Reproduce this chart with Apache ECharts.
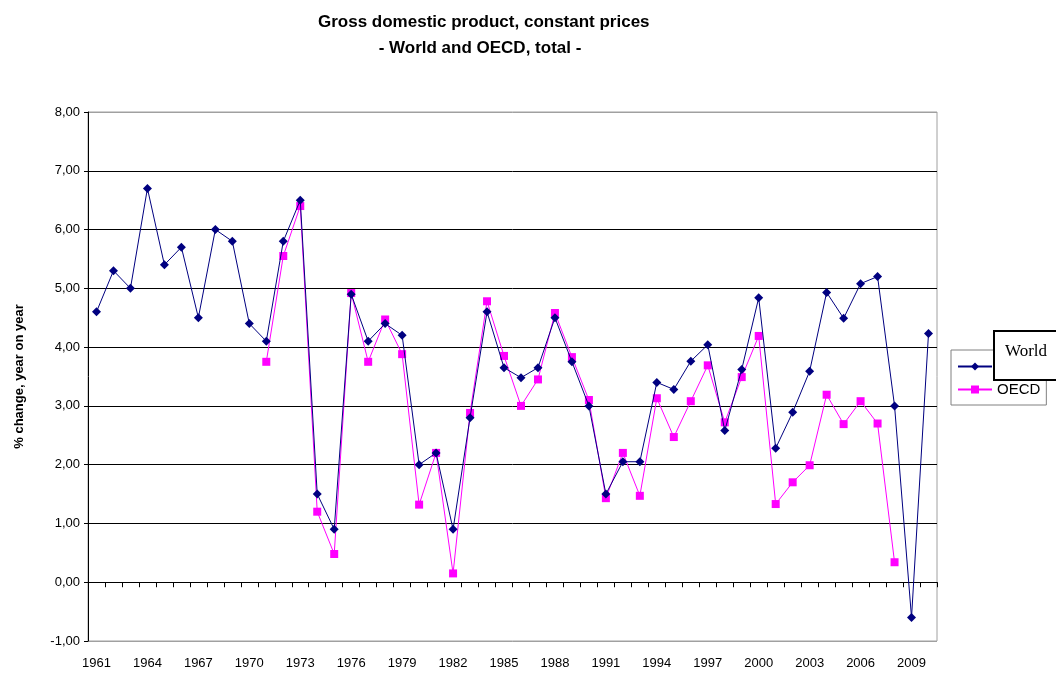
<!DOCTYPE html>
<html>
<head>
<meta charset="utf-8">
<script src="https://cdn.jsdelivr.net/npm/echarts@6/dist/echarts.min.js"></script>
<style>
  html, body { margin: 0; padding: 0; background: #fff; }
  #chart { width: 1056px; height: 673px; }
</style>
</head>
<body>
<div id="chart"></div>
<script>
  // years 1961..2010
  var years = []
  for (var y = 1961; y <= 2010; y++) years.push(String(y))

  var worldGdp = [
    4.6, 5.3, 5.0, 6.7, 5.4, 5.7, 4.5, 6.0, 5.8, 4.4,
    4.1, 5.8, 6.5, 1.5, 0.9, 4.9, 4.1, 4.4, 4.2, 2.0,
    2.2, 0.9, 2.8, 4.6, 3.65, 3.48, 3.65, 4.5, 3.75, 3.0,
    1.5, 2.05, 2.05, 3.4, 3.28, 3.76, 4.04, 2.58, 3.62, 4.84,
    2.28, 2.89, 3.59, 4.93, 4.49, 5.08, 5.2, 3.0, -0.6, 4.23
  ]
  var oecdGdp = [
    null, null, null, null, null, null, null, null, null, null,
    3.75, 5.55, 6.4, 1.2, 0.48, 4.92, 3.75, 4.47, 3.88, 1.32,
    2.2, 0.15, 2.88, 4.78, 3.85, 3.0, 3.45, 4.58, 3.83, 3.1,
    1.43, 2.2, 1.47, 3.13, 2.47, 3.08, 3.69, 2.72, 3.49, 4.19,
    1.33, 1.7, 1.99, 3.19, 2.69, 3.08, 2.7, 0.34, null, null
  ]

  var font = '"Liberation Sans", Arial, sans-serif'
  var chart = echarts.init(document.getElementById('chart'))
  var option = {
    backgroundColor: '#fff',
    animation: false,
    grid: {
      left: 88,
      top: 112,
      width: 849,
      height: 529,
      show: true,
      borderColor: '#a0a0a0',
      borderWidth: 1,
      backgroundColor: '#fff'
    },
    graphic: [
      {
        type: 'text',
        left: 480 - 162,
        top: 14,
        style: {
          text: 'Gross domestic product, constant prices',
          font: 'bold 17px ' + font,
          fill: '#000'
        }
      },
      {
        type: 'text',
        x: 480,
        y: 40,
        style: {
          text: '- World and OECD, total -',
          font: 'bold 17px ' + font,
          fill: '#000',
          textAlign: 'center'
        }
      },
      {
        type: 'rect',
        z: 100,
        shape: { x: 994, y: 331, width: 70, height: 49 },
        style: { fill: '#fff', stroke: '#000', lineWidth: 2 }
      },
      {
        type: 'text',
        z: 101,
        x: 1005,
        y: 343,
        style: {
          text: 'World',
          font: '17px "Liberation Serif", "Times New Roman", serif',
          fill: '#000'
        }
      }
    ],
    legend: {
      orient: 'vertical',
      left: 951,
      top: 350,
      width: 100,
      padding: [9, 6, 8, 6],
      itemGap: 8,
      itemWidth: 34,
      itemHeight: 10,
      borderColor: '#808080',
      borderWidth: 1,
      backgroundColor: '#fff',
      textStyle: { fontFamily: font, fontSize: 15, color: '#000' },
      data: ['World', 'OECD']
    },
    xAxis: [
      {
        type: 'category',
        data: years,
        boundaryGap: true,
        axisLine: { onZero: true, lineStyle: { color: '#000', width: 1 } },
        axisTick: { show: true, interval: 0, length: 5, inside: false, lineStyle: { color: '#000' } },
        axisLabel: { show: false },
        splitLine: { show: false }
      },
      {
        type: 'category',
        data: years,
        position: 'bottom',
        boundaryGap: true,
        axisLine: { show: false, onZero: false },
        axisTick: { show: false },
        axisLabel: {
          interval: 2,
          margin: 16,
          fontFamily: font,
          fontSize: 13,
          color: '#000'
        },
        splitLine: { show: false }
      }
    ],
    yAxis: {
      type: 'value',
      min: -1,
      max: 8,
      interval: 1,
      name: '% change, year on year',
      nameLocation: 'middle',
      nameRotate: 90,
      nameGap: 62,
      nameTextStyle: { fontFamily: font, fontSize: 13, fontWeight: 'bold', color: '#000' },
      axisLine: { show: true, lineStyle: { color: '#000' } },
      axisTick: { show: true, length: 4, lineStyle: { color: '#000' } },
      axisLabel: {
        margin: 8,
        fontFamily: font,
        fontSize: 13,
        color: '#000',
        formatter: function (v) { return v.toFixed(2).replace('.', ',') }
      },
      splitLine: {
        show: true,
        lineStyle: {
          color: ['#a0a0a0', '#000', '#000', '#000', '#000', '#000', '#000', '#000', '#000', '#a0a0a0'],
          width: 1
        }
      }
    },
    series: [
      {
        name: 'World',
        type: 'line',
        xAxisIndex: 0,
        data: worldGdp,
        symbol: 'diamond',
        symbolSize: 9,
        itemStyle: { color: '#000080' },
        lineStyle: { color: '#000080', width: 1 },
        z: 3
      },
      {
        name: 'OECD',
        type: 'line',
        xAxisIndex: 0,
        data: oecdGdp,
        symbol: 'rect',
        symbolSize: 8,
        itemStyle: { color: '#ff00ff' },
        lineStyle: { color: '#ff00ff', width: 1 },
        z: 2
      }
    ]
  }
  chart.setOption(option)
</script>
</body>
</html>
